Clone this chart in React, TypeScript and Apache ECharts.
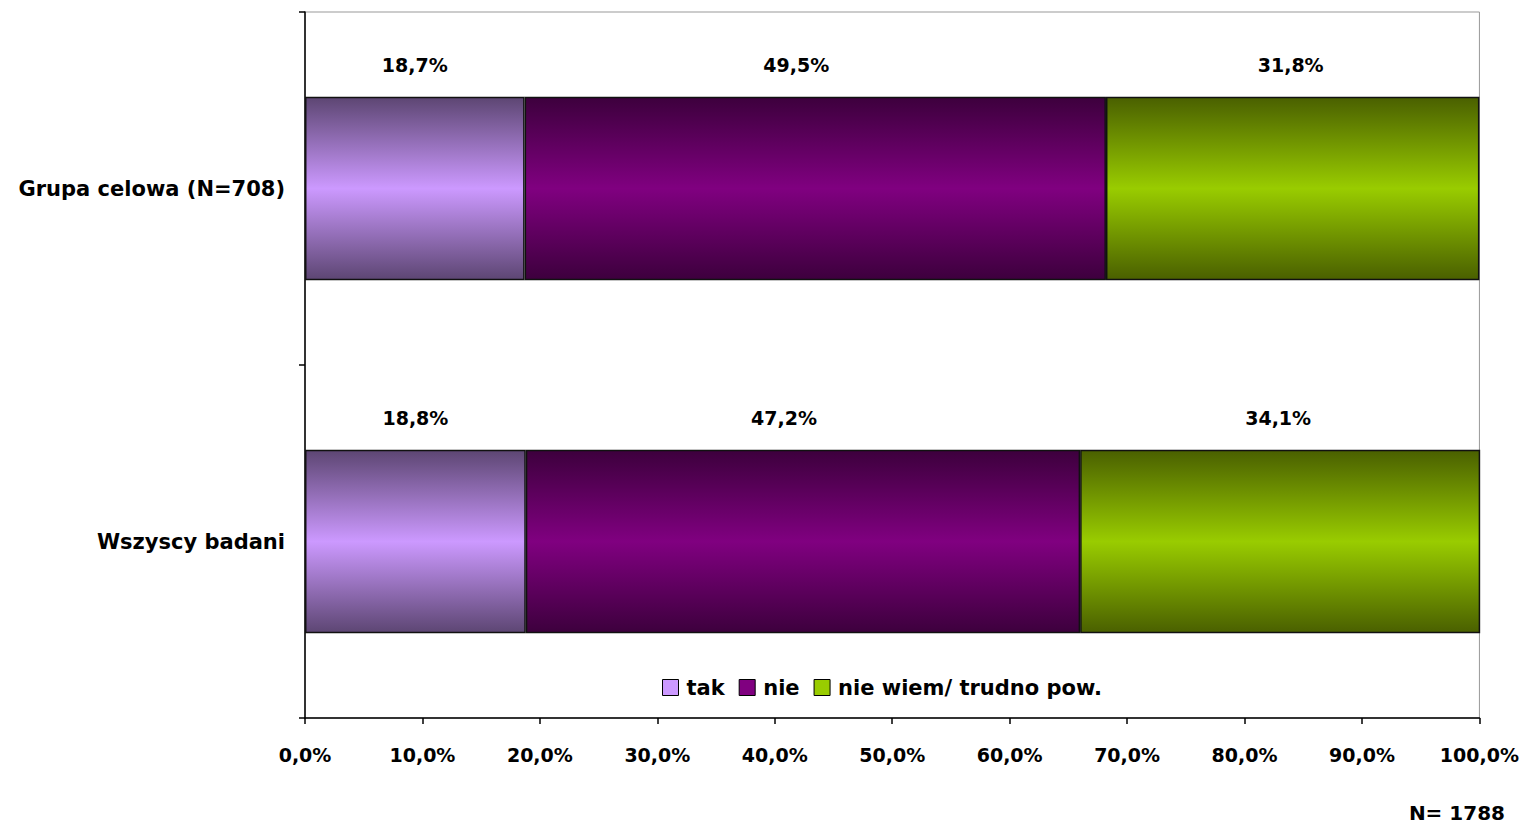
import React, { useEffect, useRef } from "react";
import * as echarts from "echarts";

const categories = ["Wszyscy badani", "Grupa celowa (N=708)"];
const seriesNames = ["tak", "nie", "nie wiem/ trudno pow."];
const takValues = [18.8, 18.7];
const nieValues = [47.2, 49.5];
const nieWiemValues = [34.1, 31.8];
const xTicks = [0, 10, 20, 30, 40, 50, 60, 70, 80, 90, 100];
const footnote = "N= 1788";

const midColors = ["#cc99ff", "#800080", "#99cc00"];
const edgeColors = ["#5d4673", "#3d003d", "#4a6000"];
const labelOffsets = [0, -19, -2];

const FONT = "'DejaVu Sans', Verdana, sans-serif";

function grad(i: number) {
  return new echarts.graphic.LinearGradient(0, 0, 0, 1, [
    { offset: 0, color: edgeColors[i] },
    { offset: 0.5, color: midColors[i] },
    { offset: 1, color: edgeColors[i] },
  ]);
}

const fmt = (v: number) => v.toFixed(1).replace(".", ",") + "%";

export default function App() {
  const ref = useRef<HTMLDivElement>(null);
  useEffect(() => {
    if (!ref.current) return;
    const chart = echarts.init(ref.current, undefined, { renderer: "svg" });
    const values = [takValues, nieValues, nieWiemValues];
    chart.setOption({
      animation: false,
      backgroundColor: "#ffffff",
      textStyle: { fontFamily: FONT },
      grid: {
        left: 305,
        right: 42,
        top: 12,
        bottom: 109,
        show: true,
        borderColor: "#999999",
        borderWidth: 1,
        backgroundColor: "transparent",
      },
      legend: {
        data: seriesNames.map((n, i) => ({
          name: n,
          itemStyle: { color: midColors[i], borderColor: "#000", borderWidth: 1 },
        })),
        left: 657,
        top: 672,
        icon: "rect",
        itemWidth: 16,
        itemHeight: 16,
        itemGap: 14,
        textStyle: {
          fontFamily: FONT,
          fontWeight: "bold",
          fontSize: 21,
          color: "#000",
          padding: [0, 0, 0, 3],
        },
      },
      xAxis: {
        type: "value",
        min: xTicks[0],
        max: xTicks[xTicks.length - 1],
        interval: 10,
        axisLine: { show: true, lineStyle: { color: "#000", width: 1.5 } },
        axisTick: { show: true, length: 6, lineStyle: { color: "#000", width: 1.5 } },
        splitLine: { show: false },
        axisLabel: {
          formatter: (v: number) => fmt(v),
          fontFamily: FONT,
          fontWeight: "bold",
          fontSize: 19,
          color: "#000",
          margin: 27,
          showMinLabel: true,
          showMaxLabel: true,
        },
      },
      yAxis: {
        type: "category",
        data: categories,
        axisLine: { show: true, lineStyle: { color: "#000", width: 1.5 } },
        axisTick: { show: true, length: 6, lineStyle: { color: "#000", width: 1.5 } },
        axisLabel: {
          fontFamily: FONT,
          fontWeight: "bold",
          fontSize: 21,
          color: "#000",
          margin: 20,
        },
      },
      series: seriesNames.map((name, i) => ({
        name,
        type: "bar",
        stack: "total",
        barWidth: "52%",
        data: values[i],
        itemStyle: { color: grad(i), borderColor: "#111", borderWidth: 1.5 },
        label: {
          show: true,
          position: "top",
          distance: 22,
          offset: [labelOffsets[i], 0],
          formatter: (p: any) => fmt(p.value),
          fontFamily: FONT,
          fontWeight: "bold",
          fontSize: 19,
          color: "#000",
        },
      })),
      graphic: [
        {
          type: "text",
          right: 17,
          top: 803,
          style: {
            text: footnote,
            font: `bold 20px ${FONT}`,
            fill: "#000",
          },
        },
      ],
    });
    return () => chart.dispose();
  }, []);
  return (
    <div
      ref={ref}
      style={{ position: "fixed", left: 0, top: 0, width: 1522, height: 827 }}
    />
  );
}
